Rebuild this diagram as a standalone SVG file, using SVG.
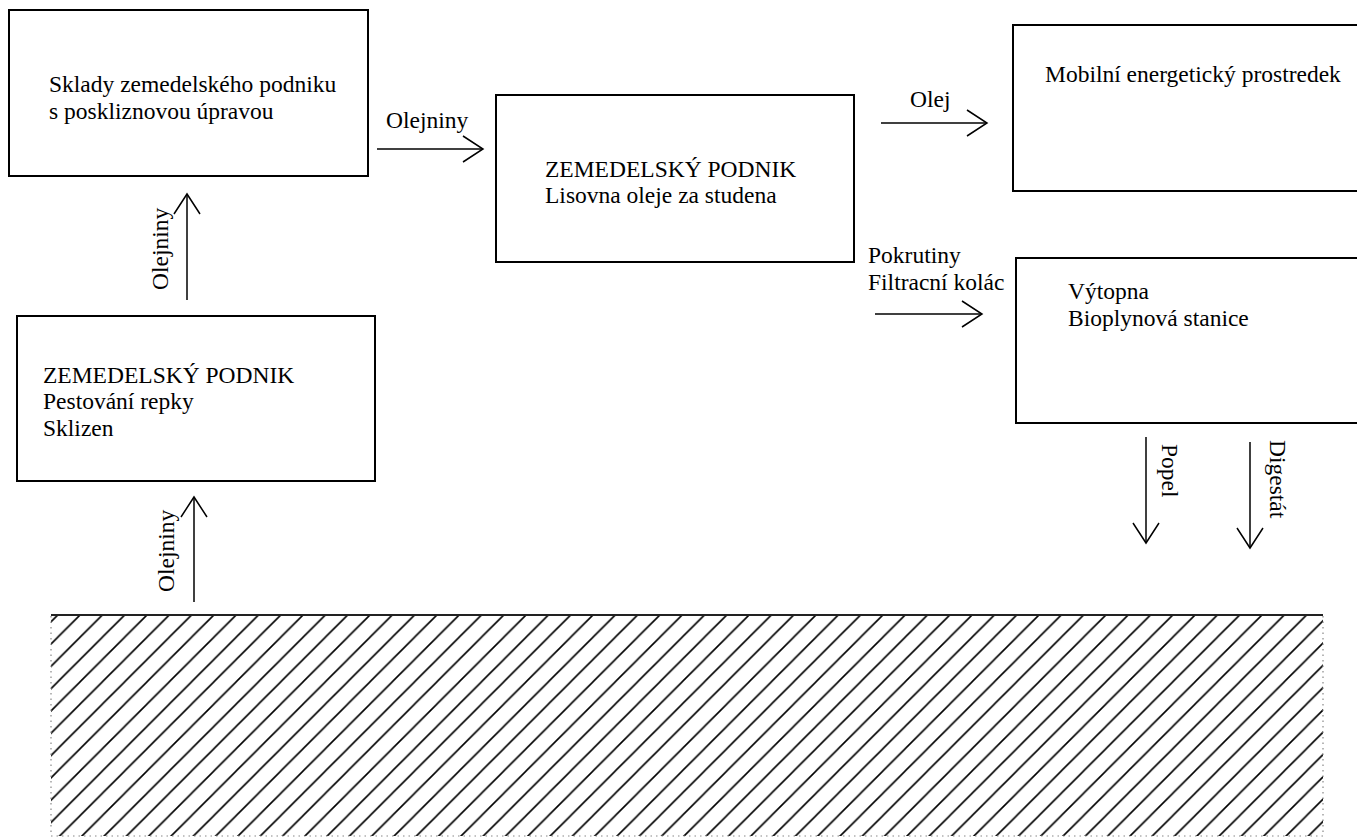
<svg xmlns="http://www.w3.org/2000/svg" width="1357" height="837" viewBox="0 0 1357 837" font-family="'Liberation Serif', 'Times New Roman', Times, serif">
<style>
.box{fill:#fff;stroke:#000;stroke-width:2}
text{font-family:'Liberation Serif','Times New Roman',Times,serif;font-size:23.5px;fill:#000}
.conn{fill:none;stroke:#000;stroke-width:1.5;marker-end:url(#arr)}
.dot{fill:none;stroke:#888;stroke-width:1.2;stroke-dasharray:1.5 4}
</style>
<defs>
<marker id="arr" markerUnits="userSpaceOnUse" viewBox="-22 -15 24 30" markerWidth="24" markerHeight="30" refX="0" refY="0" orient="auto">
<path d="M-20,-13 L0,0 L-20,13" fill="none" stroke="#000" stroke-width="1.5"/>
</marker>
<pattern id="hatch" patternUnits="userSpaceOnUse" x="80" y="615" width="22.3" height="22.3">
<path d="M0,22.3 L22.3,0 M-3,3 L3,-3 M19.3,25.3 L25.3,19.3" stroke="#000" stroke-width="1.6" fill="none"/>
</pattern>
</defs>

<g id="ground">
<rect x="51" y="615" width="1272" height="221" fill="url(#hatch)"/>
<line x1="51" y1="615" x2="1323" y2="615" stroke="#222" stroke-width="2"/>
<line class="dot" x1="51" y1="616" x2="51" y2="836"/>
<line class="dot" x1="1323" y1="616" x2="1323" y2="836"/>
<line class="dot" x1="51" y1="836" x2="1323" y2="836"/>
</g>

<g id="sklady">
<rect class="box" x="9" y="10" width="359" height="166"/>
<text x="49" y="92">Sklady zemedelského podniku</text>
<text x="49" y="119">s poskliznovou úpravou</text>
</g>

<g id="lisovna">
<rect class="box" x="496" y="95" width="358" height="167"/>
<text x="545" y="177">ZEMEDELSKÝ PODNIK</text>
<text x="545" y="203">Lisovna oleje za studena</text>
</g>

<g id="pestovani">
<rect class="box" x="17" y="316" width="358" height="165"/>
<text x="43" y="383">ZEMEDELSKÝ PODNIK</text>
<text x="43" y="409">Pestování repky</text>
<text x="43" y="435.5">Sklizen</text>
</g>

<g id="mobilni">
<rect class="box" x="1013" y="25" width="360" height="166"/>
<text x="1045" y="82">Mobilní energetický prostredek</text>
</g>

<g id="vytopna">
<rect class="box" x="1016" y="258" width="360" height="165"/>
<text x="1068" y="299">Výtopna</text>
<text x="1068" y="326">Bioplynová stanice</text>
</g>

<g id="connectors">
<path class="conn" d="M377,149 L483,149"/>
<text x="386" y="128">Olejniny</text>
<path class="conn" d="M881,123 L987,123"/>
<text x="910" y="107">Olej</text>
<path class="conn" d="M875,314 L982,314"/>
<text x="868" y="263">Pokrutiny</text>
<text x="868" y="290">Filtracní kolác</text>
<path class="conn" d="M187,300 L187,194"/>
<text x="167.5" y="290" transform="rotate(-90 167.5 290)">Olejniny</text>
<path class="conn" d="M194,602 L194,497"/>
<text x="173.5" y="592" transform="rotate(-90 173.5 592)">Olejniny</text>
<path class="conn" d="M1146,437 L1146,543"/>
<text x="1162" y="444" transform="rotate(90 1162 444)">Popel</text>
<path class="conn" d="M1250,442 L1250,548"/>
<text x="1270" y="440" transform="rotate(90 1270 440)">Digestát</text>
</g>
</svg>
